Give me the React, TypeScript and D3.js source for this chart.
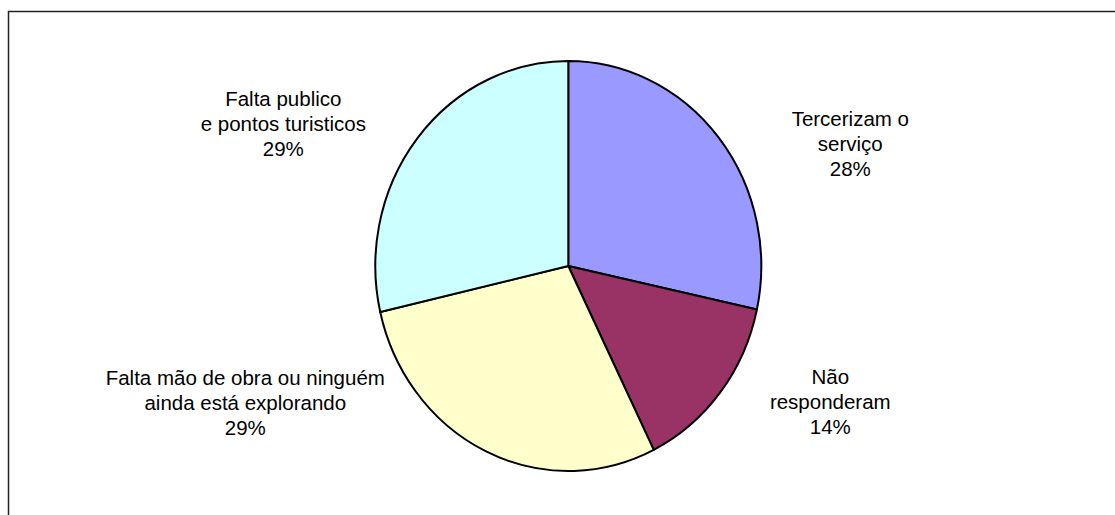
import React from "react";
import * as d3 from "d3";

const categories = [
  ["Tercerizam o", "serviço"],
  ["Não", "responderam"],
  ["Falta mão de obra ou ninguém", "ainda está explorando"],
  ["Falta publico", "e pontos turisticos"],
];
const values = [28.4, 14.3, 28.7, 28.6];
const colors = ["#9999FF", "#993366", "#FFFFCC", "#CCFFFF"];

// layout: label block offsets (middle-line baseline) relative to pie centre
const labelOffsets = [
  [282, -115],
  [262, 143],
  [-323, 144],
  [-285, -135],
];

const W = 1115;
const H = 515;
const cx = 568.3;
const cy = 266;
const rx = 193;
const ry = 205;
const lineH = 25;

export default function App() {
  const pie = d3.pie<number>().sort(null).value((d) => d)(values);
  const arc = d3.arc<d3.PieArcDatum<number>>().innerRadius(0).outerRadius(ry);
  const pct = d3.format(".0%");
  return (
    <svg
      width={W}
      height={H}
      style={{ position: "absolute", left: 0, top: 0, display: "block" }}
      fontFamily="'Liberation Sans', Arial, sans-serif"
    >
      <rect x={0} y={0} width={W} height={H} fill="#fff" />
      <path d={`M8.5,${H} L8.5,11.5 L${W},11.5`} fill="none" stroke="#222" strokeWidth={1.5} />
      <g transform={`translate(${cx},${cy}) scale(${rx / ry},1)`}>
        {pie.map((p, i) => (
          <path
            key={i}
            d={arc(p) || ""}
            fill={colors[i]}
            stroke="#000"
            strokeWidth={2}
            strokeLinejoin="round"
            vectorEffect="non-scaling-stroke"
          />
        ))}
      </g>
      {categories.map((lines, i) => {
        const [dx, dy] = labelOffsets[i];
        const all = [...lines, pct(Math.round(values[i]) / 100)];
        const y0 = cy + dy - lineH;
        return (
          <text key={i} x={cx + dx} y={y0} textAnchor="middle" fontSize={20.5} fill="#000">
            {all.map((t, j) => (
              <tspan key={j} x={cx + dx} y={y0 + j * lineH}>
                {t}
              </tspan>
            ))}
          </text>
        );
      })}
    </svg>
  );
}
